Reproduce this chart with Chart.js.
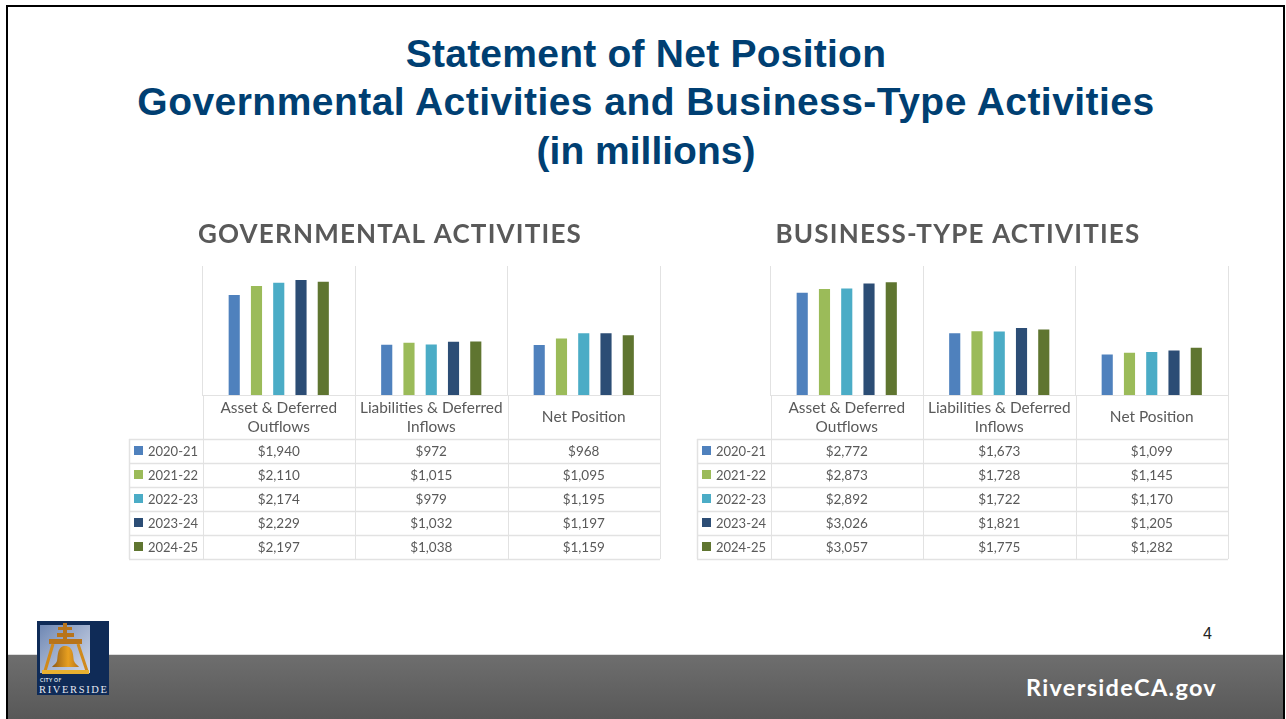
<!DOCTYPE html>
<html><head><meta charset="utf-8">
<script src="https://cdn.jsdelivr.net/npm/chart.js@4"></script>
<style>
html,body{margin:0;padding:0;background:#fff;overflow:hidden}
#slide{position:absolute;left:0;top:0;width:1286px;height:719px;overflow:hidden;background:#fff}
#frame{position:absolute;left:6px;top:5px;width:1279px;height:714px;box-sizing:border-box;border:solid #000;border-width:2px 2px 0 2px;z-index:5;pointer-events:none}
.t{position:absolute;left:0;width:1292px;text-align:center;font:bold 39px "Liberation Sans",Arial,sans-serif;color:#003f72;line-height:48px}
#band{position:absolute;left:8px;top:654px;width:1275px;height:65px;background:linear-gradient(#6e6e6e,#585858);border-top:1px solid #ddd;box-sizing:border-box}
#web{position:absolute;left:1026px;top:673px;font:bold 23.5px "Lato",sans-serif;color:#fff;letter-spacing:1.3px}
#pg{position:absolute;left:1203px;top:625px;font:16px "Liberation Sans",sans-serif;color:#222}
canvas{position:absolute}
#logo{position:absolute;left:37px;top:621px;z-index:3}
</style></head><body>
<div id="slide">
<div class="t" style="top:30px;letter-spacing:.24px">Statement of Net Position</div>
<div class="t" style="top:78px;letter-spacing:.46px">Governmental Activities and Business-Type Activities</div>
<div class="t" style="top:127px">(in millions)</div>
<canvas id="c1" width="560" height="360" style="left:120px;top:210px;width:560px;height:360px"></canvas>
<canvas id="c2" width="560" height="360" style="left:688px;top:210px;width:560px;height:360px"></canvas>
<div id="band"></div>
<div id="pg">4</div>
<div id="web">RiversideCA.gov</div>
<svg id="logo" width="72" height="74" viewBox="0 0 72 74">
<defs><linearGradient id="sky" x1="0" y1="0" x2="1" y2="1"><stop offset="0" stop-color="#6f88b4"/><stop offset="1" stop-color="#d5dbea"/></linearGradient>
<linearGradient id="au" x1="0" y1="0" x2="1" y2="0"><stop offset="0" stop-color="#8f5a14"/><stop offset=".6" stop-color="#e8a020"/><stop offset="1" stop-color="#b8741a"/></linearGradient></defs>
<rect width="72" height="74" fill="#0f2b57"/>
<rect x="3" y="4" width="50" height="48" fill="url(#sky)"/>
<g fill="#b8741a"><rect x="26" y="2" width="4" height="16"/><rect x="21" y="6" width="14" height="3"/><rect x="20" y="12" width="17" height="4"/><rect x="12" y="18" width="33" height="5"/></g>
<path d="M16 23 L8 50 M41 23 L50 50" stroke="#d08a1c" stroke-width="3" fill="none"/>
<rect x="5" y="49" width="47" height="4" fill="#e8b030"/>
<path d="M28 25 C20 25 21 36 20 40 C19 43 16 44 15 46 L42 46 C41 44 38 43 37 40 C36 36 37 25 28 25Z" fill="url(#au)"/>
<text x="3" y="61" font-family="Lato,sans-serif" font-size="5" font-weight="700" fill="#dfe4ee" letter-spacing=".4">CITY OF</text>
<text x="2" y="72" font-family="'Liberation Serif',serif" font-size="10.5" fill="#e6e9f1" textLength="68">RIVERSIDE</text>
</svg>
<div id="frame"></div>
</div>
<script>
const categories=[["Asset & Deferred","Outflows"],["Liabilities & Deferred","Inflows"],"Net Position"];
const years=["2020-21","2021-22","2022-23","2023-24","2024-25"];
const colors=["#4f81bd","#9bbb59","#4bacc6","#2c4d75","#5f7530"];
const gov2021=[1940,972,968];
const gov2122=[2110,1015,1095];
const gov2223=[2174,979,1195];
const gov2324=[2229,1032,1197];
const gov2425=[2197,1038,1159];
const bus2021=[2772,1673,1099];
const bus2122=[2873,1728,1145];
const bus2223=[2892,1722,1170];
const bus2324=[3026,1821,1205];
const bus2425=[3057,1775,1282];
const govMax=2500, busMax=3500;
const FONT='"Lato","Open Sans",sans-serif';
const GRID="#e2e2e2";

const tablePlugin={id:'dataTable',
 afterLayout(chart){
  const b=chart.titleBlock;
  if(b && !b._spaced){
    const draw=b.draw.bind(b);
    b.draw=function(){chart.ctx.letterSpacing='1.2px';draw();chart.ctx.letterSpacing='0px';};
    b._spaced=true;
  }
 },
 afterDraw(chart){
  const {ctx,scales:{x},chartArea:a}=chart;
  const step=x.getPixelForValue(1)-x.getPixelForValue(0);
  const top=a.bottom+44, rowH=24, lx=9;
  const left=x.getPixelForValue(0)-step/2;
  ctx.save();
  ctx.strokeStyle=GRID;ctx.lineWidth=1.5;
  chart.data.datasets.forEach((d,i)=>{
    const y=top+i*rowH;
    ctx.beginPath();ctx.moveTo(lx,y+.5);ctx.lineTo(a.right,y+.5);ctx.stroke();
    ctx.fillStyle=d.backgroundColor;ctx.fillRect(lx+5,y+7,9,9);
    ctx.fillStyle="#595959";ctx.font='13px '+FONT;ctx.textAlign='left';ctx.textBaseline='middle';
    ctx.fillText(d.label,lx+19,y+12.5);
    ctx.font='13.5px '+FONT;ctx.textAlign='center';
    d.data.forEach((v,j)=>ctx.fillText('$'+v.toLocaleString('en-US'),x.getPixelForValue(j),y+12.5));
  });
  const bottom=top+5*rowH;
  ctx.beginPath();ctx.moveTo(lx,bottom+.5);ctx.lineTo(a.right,bottom+.5);ctx.stroke();
  ctx.beginPath();ctx.moveTo(lx+.5,top);ctx.lineTo(lx+.5,bottom);ctx.stroke();
  ctx.lineWidth=1;
  for(let k=0;k<=3;k++){const px=Math.round(left+k*step)+.5;ctx.beginPath();ctx.moveTo(px,a.bottom);ctx.lineTo(px,bottom);ctx.stroke();}
  ctx.restore();
}};

function build(id,title,sets,max){
  return new Chart(document.getElementById(id),{
    type:'bar',
    data:{labels:categories,datasets:sets.map((s,i)=>({label:years[i],data:s,backgroundColor:colors[i],borderWidth:0}))},
    plugins:[tablePlugin],
    options:{responsive:false,animation:false,
      layout:{padding:{left:0,right:20,top:0,bottom:131}},
      datasets:{bar:{barPercentage:.5,categoryPercentage:.73}},
      plugins:{legend:{display:false},tooltip:{enabled:false},
        title:{display:true,text:title,color:"#595959",font:{family:FONT,size:26,weight:'700'},padding:{top:9,bottom:15.8}}},
      scales:{
        x:{grid:{color:GRID,drawTicks:false,offset:true},border:{color:GRID},
           afterFit(s){s.height=44;},
           ticks:{color:"#595959",crossAlign:'center',font:{family:FONT,size:15.4,lineHeight:1.234},padding:13,maxRotation:0,autoSkip:false}},
        y:{display:true,min:0,max:max,afterFit(s){s.width=82.5;},
           grid:{display:false},border:{display:false},ticks:{display:false}}
      }
    }
  });
}
build('c1','GOVERNMENTAL ACTIVITIES',[gov2021,gov2122,gov2223,gov2324,gov2425],govMax);
build('c2','BUSINESS-TYPE ACTIVITIES',[bus2021,bus2122,bus2223,bus2324,bus2425],busMax);
</script>
</body></html>
